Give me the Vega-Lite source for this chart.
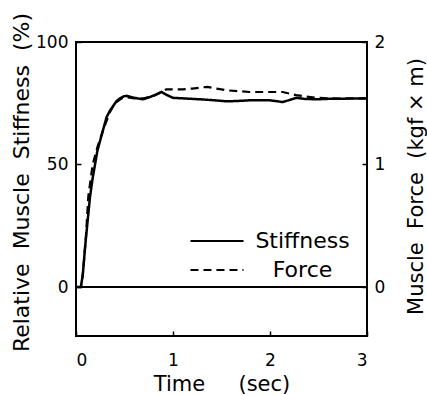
{
  "$schema": "https://vega.github.io/schema/vega-lite/v6.json",
  "width": 291,
  "height": 294,
  "autosize": {"type": "none"},
  "padding": {"left": 76, "top": 42, "right": 60, "bottom": 59},
  "background": "white",
  "config": {
    "font": "DejaVu Sans",
    "view": {"stroke": "black", "strokeWidth": 2},
    "axis": {
      "grid": false,
      "domain": false,
      "labelColor": "black",
      "titleColor": "black",
      "labelFont": "DejaVu Sans",
      "titleFont": "DejaVu Sans",
      "labelFontSize": 17,
      "titleFontSize": 22,
      "titleFontWeight": "normal",
      "tickColor": "black",
      "tickWidth": 1.5,
      "tickSize": -5
    }
  },
  "datasets": {
    "stiffness": [
      {"time": 0.0, "stiffness": 0},
      {"time": 0.05, "stiffness": 0},
      {"time": 0.07, "stiffness": 5},
      {"time": 0.093, "stiffness": 16},
      {"time": 0.12, "stiffness": 27},
      {"time": 0.144, "stiffness": 36.6},
      {"time": 0.17, "stiffness": 44},
      {"time": 0.196, "stiffness": 50},
      {"time": 0.22, "stiffness": 55.5},
      {"time": 0.254, "stiffness": 60.5},
      {"time": 0.285, "stiffness": 65},
      {"time": 0.316, "stiffness": 69.4},
      {"time": 0.35, "stiffness": 72},
      {"time": 0.385, "stiffness": 74},
      {"time": 0.42, "stiffness": 76},
      {"time": 0.454, "stiffness": 77},
      {"time": 0.49, "stiffness": 77.8},
      {"time": 0.52, "stiffness": 78},
      {"time": 0.57, "stiffness": 77.5},
      {"time": 0.63, "stiffness": 77},
      {"time": 0.69, "stiffness": 76.6},
      {"time": 0.76, "stiffness": 77.5},
      {"time": 0.82, "stiffness": 78.5},
      {"time": 0.88, "stiffness": 79.6},
      {"time": 0.93, "stiffness": 78.5},
      {"time": 1.0, "stiffness": 77.2},
      {"time": 1.1, "stiffness": 77},
      {"time": 1.28, "stiffness": 76.6},
      {"time": 1.4, "stiffness": 76.3},
      {"time": 1.55, "stiffness": 75.8},
      {"time": 1.65, "stiffness": 75.9},
      {"time": 1.79, "stiffness": 76.2},
      {"time": 2.0, "stiffness": 76.2},
      {"time": 2.13, "stiffness": 75.5},
      {"time": 2.2, "stiffness": 76.3},
      {"time": 2.27, "stiffness": 77.2},
      {"time": 2.35, "stiffness": 76.8},
      {"time": 2.48, "stiffness": 76.6},
      {"time": 2.6, "stiffness": 76.8},
      {"time": 2.8, "stiffness": 76.9},
      {"time": 3.0, "stiffness": 77}
    ],
    "force": [
      {"time": 0.0, "force": 0},
      {"time": 0.05, "force": 0},
      {"time": 0.07, "force": 0.1},
      {"time": 0.1, "force": 0.38},
      {"time": 0.127, "force": 0.74},
      {"time": 0.172, "force": 1.0},
      {"time": 0.22, "force": 1.14},
      {"time": 0.28, "force": 1.28},
      {"time": 0.345, "force": 1.42},
      {"time": 0.4, "force": 1.5},
      {"time": 0.47, "force": 1.54},
      {"time": 0.52, "force": 1.55},
      {"time": 0.6, "force": 1.54},
      {"time": 0.7, "force": 1.54},
      {"time": 0.8, "force": 1.56},
      {"time": 0.88, "force": 1.59},
      {"time": 0.93, "force": 1.614},
      {"time": 1.1, "force": 1.614},
      {"time": 1.2, "force": 1.62},
      {"time": 1.35, "force": 1.634},
      {"time": 1.45, "force": 1.62},
      {"time": 1.55, "force": 1.606},
      {"time": 1.79, "force": 1.592},
      {"time": 2.13, "force": 1.592},
      {"time": 2.27, "force": 1.566},
      {"time": 2.48, "force": 1.544},
      {"time": 2.7, "force": 1.538},
      {"time": 3.0, "force": 1.54}
    ]
  },
  "layer": [
    {
      "layer": [
        {
          "data": {"name": "stiffness"},
          "mark": {"type": "line", "color": "black", "strokeWidth": 2.5},
          "encoding": {
            "x": {
              "field": "time",
              "type": "quantitative",
              "scale": {"domain": [0, 3], "nice": false},
              "axis": {"values": [0, 1, 2, 3], "format": "d", "title": "Time\u00a0\u00a0\u00a0\u00a0\u00a0(sec)", "titleFontSize": 21, "labelPadding": 21, "titlePadding": 5}
            },
            "y": {
              "field": "stiffness",
              "type": "quantitative",
              "scale": {"domain": [-20, 100], "nice": false, "zero": false},
              "axis": {"values": [0, 50, 100], "title": "Relative\u00a0\u00a0Muscle\u00a0\u00a0Stiffness\u00a0\u00a0(%)", "labelPadding": 13, "titlePadding": 2, "titleY": 140}
            },
            "strokeDash": {
              "datum": "Stiffness",
              "type": "nominal",
              "scale": {"domain": ["Stiffness", "Force"], "range": [[1, 0], [8, 5]]},
              "legend": {
                "title": null,
                "orient": "none",
                "legendX": 130,
                "legendY": 188,
                "padding": 0,
                "symbolType": "M-4,0L4,0",
                "symbolSize": 176,
                "symbolStrokeWidth": 2.2,
                "symbolStrokeColor": "black",
                "symbolFillColor": "transparent",
                "labelFont": "DejaVu Sans",
                "labelFontSize": 22,
                "labelColor": "black",
                "labelAlign": "center",
                "labelOffset": 74.5,
                "labelLimit": 300,
                "rowPadding": 7
              }
            }
          }
        },
        {
          "data": {"values": [{}]},
          "mark": {"type": "rule", "color": "black", "strokeWidth": 2},
          "encoding": {"y": {"datum": 0, "title": "Relative\u00a0\u00a0Muscle\u00a0\u00a0Stiffness\u00a0\u00a0(%)"}}
        }
      ]
    },
    {
      "data": {"name": "force"},
      "mark": {"type": "line", "color": "black", "strokeWidth": 2.2},
      "encoding": {
        "x": {"field": "time", "type": "quantitative"},
        "y": {
          "field": "force",
          "type": "quantitative",
          "scale": {"domain": [-0.4, 2], "nice": false, "zero": false},
          "axis": {"orient": "right", "values": [0, 1, 2], "title": "Muscle\u00a0\u00a0Force\u00a0\u00a0(kgf\u00a0×\u00a0m)", "titleAngle": 270, "titleFontSize": 21, "labelPadding": 12, "titlePadding": 42, "titleY": 144}
        },
        "strokeDash": {"datum": "Force", "type": "nominal"}
      }
    }
  ],
  "resolve": {"scale": {"y": "independent"}}
}
